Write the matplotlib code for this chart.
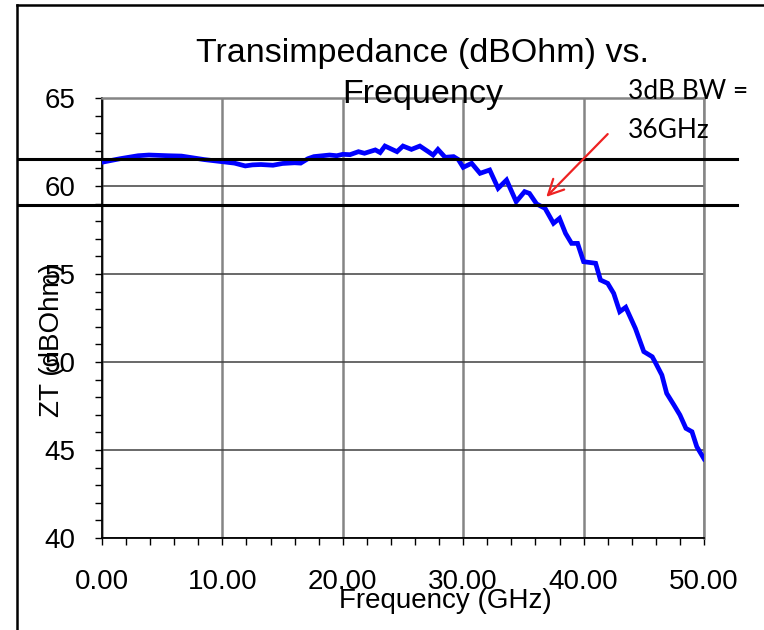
import matplotlib
matplotlib.use("Agg")
import matplotlib.pyplot as plt
from matplotlib.lines import Line2D
from matplotlib.ticker import MultipleLocator, FormatStrFormatter

# ---- data ----
freq_ghz = [0.0, 1.5, 3.0, 3.9, 5.5, 6.6, 8.5, 10.0, 11.0, 11.9, 12.5, 13.2, 14.2,
            15.0, 16.0, 16.5, 17.1, 17.6, 18.9, 19.5, 20.0, 20.6, 21.3, 21.8, 22.7,
            23.1, 23.5, 24.5, 25.0, 25.7, 26.4, 27.1, 27.5, 27.9, 28.5, 29.2, 29.6,
            30.0, 30.7, 31.4, 32.2, 32.9, 33.6, 34.4, 35.1, 35.5, 36.1, 36.8, 37.5,
            38.0, 38.5, 39.0, 39.5, 40.0, 41.0, 41.4, 42.0, 42.5, 43.0, 43.5, 44.3,
            45.0, 45.7, 46.0, 46.5, 46.9, 47.5, 48.0, 48.5, 49.0, 49.4, 50.0]
zt_dbohm = [61.35, 61.55, 61.72, 61.76, 61.72, 61.70, 61.50, 61.38, 61.30, 61.14,
            61.20, 61.22, 61.18, 61.28, 61.32, 61.30, 61.55, 61.67, 61.76, 61.72,
            61.80, 61.78, 61.95, 61.86, 62.05, 61.90, 62.27, 61.95, 62.27, 62.08,
            62.27, 61.95, 61.76, 62.08, 61.63, 61.67, 61.50, 61.06, 61.29, 60.72,
            60.91, 59.87, 60.34, 59.11, 59.68, 59.58, 58.98, 58.73, 57.88, 58.16,
            57.31, 56.74, 56.74, 55.70, 55.61, 54.66, 54.47, 53.90, 52.86, 53.11,
            51.91, 50.59, 50.30, 49.92, 49.26, 48.22, 47.56, 46.99, 46.23, 46.04,
            45.19, 44.50]
ref_levels = [61.52, 58.92]          # horizontal reference lines (dBOhm)
arrow_tail = (42.0, 62.95)           # annotation arrow (GHz, dBOhm)
arrow_head = (36.9, 59.38)
x_ticks = [0, 10, 20, 30, 40, 50]
y_ticks = [40, 45, 50, 55, 60, 65]
title_lines = ["Transimpedance (dBOhm) vs.", "Frequency"]
note_lines = ["3dB BW =", "36GHz"]

W, H = 764, 630
fig = plt.figure(figsize=(W / 100, H / 100), dpi=100)
fig.patch.set_facecolor("white")

ax_l, ax_r, ax_t, ax_b = 102, 704, 98, 538
ax = fig.add_axes([ax_l / W, 1 - ax_b / H, (ax_r - ax_l) / W, (ax_b - ax_t) / H])

sans = ["Liberation Sans", "DejaVu Sans"]

ax.set_xlim(0, 50)
ax.set_ylim(40, 65)
ax.set_xticks(x_ticks)
ax.set_yticks(y_ticks)
ax.xaxis.set_minor_locator(MultipleLocator(2))
ax.yaxis.set_minor_locator(MultipleLocator(1))
ax.xaxis.set_major_formatter(FormatStrFormatter("%.2f"))

ax.tick_params(axis="both", which="both", direction="out", length=5, width=1,
               color="black")
ax.tick_params(axis="x", which="major", pad=17, labelsize=20)
ax.tick_params(axis="y", which="major", pad=14, labelsize=20)
for lbl in ax.get_xticklabels() + ax.get_yticklabels():
    lbl.set_family(sans)

# gridlines
ax.xaxis.grid(True, which="major", color="#858585", linewidth=1.8)
ax.yaxis.grid(True, which="major", color="#404040", linewidth=1.1)
ax.set_axisbelow(True)

for s in ("left", "bottom"):
    ax.spines[s].set_color("black")
    ax.spines[s].set_linewidth(1.3)
for s in ("top", "right"):
    ax.spines[s].set_color("#858585")
    ax.spines[s].set_linewidth(1.8)

# curve
ax.plot(freq_ghz, zt_dbohm, color="#0000FF", linewidth=3.4, solid_joinstyle="miter",
        zorder=3)

# reference lines spanning beyond the plot area
tr = ax.get_yaxis_transform()
x0f = (18 - ax_l) / (ax_r - ax_l)
x1f = (737 - ax_l) / (ax_r - ax_l)
for lvl in ref_levels:
    ax.plot([x0f, x1f], [lvl, lvl], transform=tr, color="black", linewidth=2.2,
            clip_on=False, zorder=4)

# arrow
ax.annotate("", xy=arrow_head, xytext=arrow_tail,
            arrowprops=dict(arrowstyle="->,head_length=1.1,head_width=0.55",
                            color="#EE2222", lw=1.6, shrinkA=0, shrinkB=0),
            annotation_clip=False, zorder=5)

# axis labels
ax.set_xlabel("Frequency (GHz)", fontsize=20, family=sans)
ax.xaxis.set_label_coords((445 - ax_l) / (ax_r - ax_l), (ax_b - 601) / (ax_b - ax_t))
ax.xaxis.label.set_va("center")
ax.set_ylabel("ZT (dBOhm)", fontsize=20, family=sans)
ax.yaxis.set_label_coords((52 - ax_l) / (ax_r - ax_l), (ax_b - 340) / (ax_b - ax_t))
ax.yaxis.label.set_va("center")

# title
fig.text(423 / W, 1 - 62 / H, title_lines[0], ha="center", va="baseline",
         fontsize=24.5, family=sans)
fig.text(423 / W, 1 - 103 / H, title_lines[1], ha="center", va="baseline",
         fontsize=24.5, family=sans)

# note text
note_font = ["Lato", "DejaVu Sans"]
fig.text(628 / W, 1 - 99 / H, note_lines[0], ha="left", va="baseline",
         fontsize=19, family=note_font)
fig.text(628 / W, 1 - 138 / H, note_lines[1], ha="left", va="baseline",
         fontsize=19, family=note_font)

# outer chart border (left and top visible)
fig.add_artist(Line2D([17 / W, 17 / W], [0, 1 - 5 / H], transform=fig.transFigure,
                      color="black", linewidth=1.8))
fig.add_artist(Line2D([17 / W, 1], [1 - 5 / H, 1 - 5 / H], transform=fig.transFigure,
                      color="black", linewidth=1.8))

fig.savefig("out.png", dpi=100)
